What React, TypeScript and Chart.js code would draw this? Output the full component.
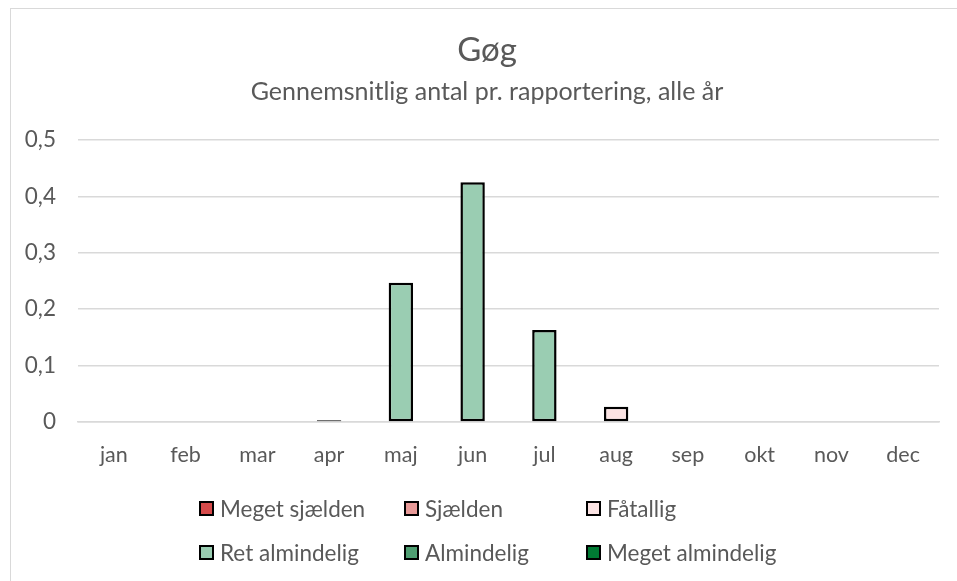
import React, { useEffect, useRef } from "react";
import { Chart, registerables } from "chart.js";

Chart.register(...registerables);

const categories = ["jan", "feb", "mar", "apr", "maj", "jun", "jul", "aug", "sep", "okt", "nov", "dec"];
const seriesNames = ["Meget sjælden", "Sjælden", "Fåtallig", "Ret almindelig", "Almindelig", "Meget almindelig"];
const seriesColors = ["#D64B4B", "#E89A98", "#FBE3E3", "#9ACDB2", "#4F9E72", "#007A33"];
const megetSjaelden: (number | null)[] = [null, null, null, null, null, null, null, null, null, null, null, null];
const sjaelden: (number | null)[] = [null, null, null, null, null, null, null, null, null, null, null, null];
const faatallig: (number | null)[] = [null, null, null, 0.003, null, null, null, 0.027, null, null, null, null];
const retAlmindelig: (number | null)[] = [null, null, null, null, 0.247, 0.425, 0.163, null, null, null, null, null];
const almindelig: (number | null)[] = [null, null, null, null, null, null, null, null, null, null, null, null];
const megetAlmindelig: (number | null)[] = [null, null, null, null, null, null, null, null, null, null, null, null];
const seriesValues = [megetSjaelden, sjaelden, faatallig, retAlmindelig, almindelig, megetAlmindelig];

const FONT = "Lato, 'Open Sans', sans-serif";
const TEXT = "#595959";

const legendCols = [199, 404, 586];
const legendRows = [508, 552];

export default function App() {
  const ref = useRef<HTMLCanvasElement | null>(null);
  useEffect(() => {
    if (!ref.current) return;
    const chart = new Chart(ref.current, {
      type: "bar",
      data: {
        labels: categories,
        datasets: seriesNames.map((name, i) => ({
          label: name,
          data: seriesValues[i],
          backgroundColor: seriesColors[i],
          borderColor: "#000000",
          borderWidth: 2.5,
          borderSkipped: false,
          categoryPercentage: 1,
          barPercentage: 0.34,
        })),
      },
      options: {
        animation: false,
        responsive: false,
        maintainAspectRatio: false,
        layout: { padding: { left: 10, right: 18, top: 140, bottom: 109 } },
        plugins: {
          legend: { display: false },
          title: { display: false },
          tooltip: { enabled: false },
        },
        scales: {
          x: {
            stacked: true,
            grid: { display: false },
            border: { display: true, color: "#D9D9D9", width: 1.5 },
            ticks: { color: TEXT, font: { family: FONT, size: 21.5 }, padding: 12 },
            afterFit: (s: any) => { s.height = 50; },
          },
          y: {
            stacked: true,
            min: 0,
            max: 0.5,
            ticks: {
              stepSize: 0.1,
              color: TEXT,
              font: { family: FONT, size: 22.5 },
              padding: 22,
              callback: (v: any) => (Math.round(Number(v) * 10) / 10).toString().replace(".", ","),
            },
            grid: { color: "#D9D9D9", lineWidth: 1.5, drawTicks: false },
            border: { display: false },
            afterFit: (s: any) => { s.width = 68; },
          },
        },
      },
    });
    return () => chart.destroy();
  }, []);

  return (
    <div style={{ position: "fixed", left: 0, top: 0, width: 957, height: 581, background: "#fff", overflow: "hidden" }}>
      <div style={{ position: "absolute", left: 10, top: 8, width: 960, height: 600, border: "1.5px solid #D9D9D9", boxSizing: "border-box" }} />
      <canvas ref={ref} width={957} height={581} style={{ position: "absolute", left: 0, top: 0, width: 957, height: 581 }} />
      <div style={{ position: "absolute", left: 0, width: 974, top: 28, textAlign: "center", fontFamily: FONT, fontSize: 33, color: TEXT, lineHeight: "40px" }}>Gøg</div>
      <div style={{ position: "absolute", left: 0, width: 974, top: 74, textAlign: "center", fontFamily: FONT, fontSize: 25, color: TEXT, lineHeight: "32px" }}>Gennemsnitlig antal pr. rapportering, alle år</div>
      {seriesNames.map((name, i) => {
        const col = i % 3;
        const row = Math.floor(i / 3);
        return (
          <div key={name} style={{ position: "absolute", left: legendCols[col], top: legendRows[row] - 15, height: 30, display: "flex", alignItems: "center", fontFamily: FONT, fontSize: 22.5, color: TEXT, whiteSpace: "nowrap" }}>
            <span style={{ display: "inline-block", width: 15, height: 15, boxSizing: "border-box", border: "2.5px solid #000", background: seriesColors[i], marginRight: 6 }} />
            <span>{name}</span>
          </div>
        );
      })}
    </div>
  );
}
